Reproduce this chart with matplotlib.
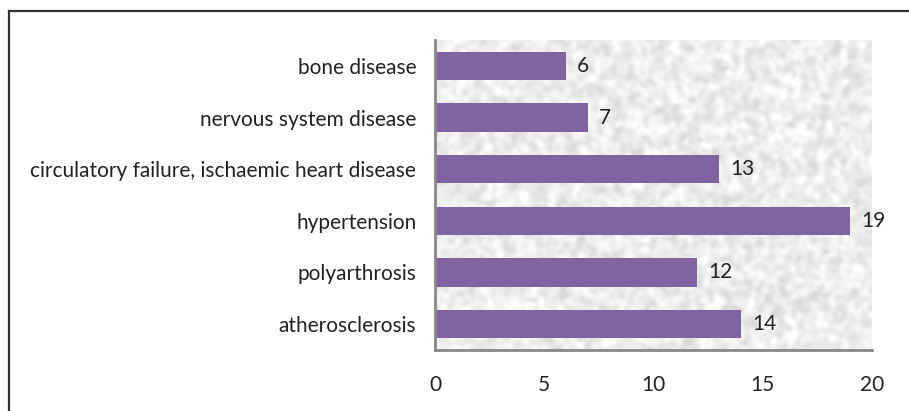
import numpy as np
import matplotlib
matplotlib.use('Agg')
import matplotlib.pyplot as plt

categories = ['atherosclerosis', 'polyarthrosis', 'hypertension',
              'circulatory failure, ischaemic heart disease',
              'nervous system disease', 'bone disease']
values = [14, 12, 19, 13, 7, 6]
x_ticks = [0, 5, 10, 15, 20]

plt.rcParams['font.family'] = ['Lato', 'DejaVu Sans']

fig = plt.figure(figsize=(9.09, 4.11), dpi=100)
W, H = 909, 411

# outer frame (only top and left visible in the reference)
fig.add_artist(plt.Line2D([9 / W, 9 / W], [0, 1 - 11 / H], color='#333333', lw=1.6))
fig.add_artist(plt.Line2D([9 / W, 1], [1 - 11 / H, 1 - 11 / H], color='#333333', lw=1.6))

ax = fig.add_axes([435 / W, 1 - 350 / H, (872 - 435) / W, (350 - 40) / H])

# granite-like light grey background texture (pixel-sized grid)
rng = np.random.default_rng(3)
ny, nx = 310, 437
noise = rng.normal(0, 1, (ny, nx))
ky = np.fft.fftfreq(ny)[:, None]
kx = np.fft.fftfreq(nx)[None, :]
smooth = np.real(np.fft.ifft2(np.fft.fft2(noise) * np.exp(-(kx ** 2 + ky ** 2) / 0.008)))
smooth = (smooth - smooth.mean()) / smooth.std()
tex = np.clip(0.93 + 0.03 * smooth, 0.85, 1.0)
ax.imshow(tex, cmap='gray', vmin=0, vmax=1, extent=[0, 20, -0.5, 5.5],
          aspect='auto', zorder=0, interpolation='nearest')

y = np.arange(len(categories))
ax.barh(y, values, height=0.55, color='#8064A2', zorder=2)
for yi, v in zip(y, values):
    ax.text(v + 0.5, yi, str(v), va='center', ha='left', fontsize=15, color='#222222')

ax.set_xlim(0, 20)
ax.set_ylim(-0.5, 5.5)
ax.set_xticks(x_ticks)
ax.set_yticks(y)
ax.set_yticklabels(categories)
ax.tick_params(axis='both', length=0, labelsize=15, colors='#222222')
ax.tick_params(axis='y', pad=13.5)
ax.tick_params(axis='x', pad=18)
for s in ['top', 'right']:
    ax.spines[s].set_visible(False)
for s in ['left', 'bottom']:
    ax.spines[s].set_color('#888888')
    ax.spines[s].set_linewidth(2)

fig.savefig('out.png', dpi=100)
